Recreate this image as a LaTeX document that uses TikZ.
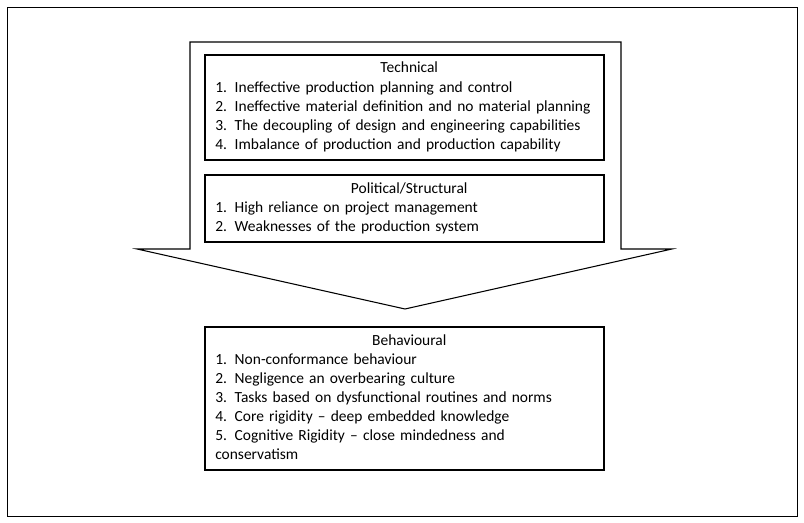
\documentclass[tikz,border=0pt]{standalone}
\usepackage{fontspec}
\setmainfont{Carlito}
\begin{document}
\begin{tikzpicture}[x=0.75pt,y=-0.75pt,
  frame/.style={draw=black,line width=0.8pt,fill=white},
  txt/.style={anchor=north west,inner sep=0pt,
    text width=291pt,align=left,font=\fontsize{11.6}{14.3}\selectfont}]
\useasboundingbox (0,0) rectangle (804,523);
\draw[line width=0.6pt] (7,7) rectangle (797,516);
\draw[line width=0.8pt] (190,42) -- (621,42) -- (621,249) -- (672,249) -- (405,309) -- (137,249) -- (190,249) -- cycle;
\draw[frame] (205,55) rectangle (604,160);
\draw[frame] (205,175) rectangle (604,242);
\draw[frame] (205,327) rectangle (604,470);
\node[txt] (tech) at (215,62) {\hfil Technical\par
1. Ineffective production planning and control\\
2. Ineffective material definition and no material planning\\
3. The decoupling of design and engineering capabilities\\
4. Imbalance of production and production capability};
\node[txt] (pol) at (215,182) {\hfil Political/Structural\par
1. High reliance on project management\\
2. Weaknesses of the production system};
\node[txt] (beh) at (215,334) {\hfil Behavioural\par
1. Non-conformance behaviour\\
2. Negligence an overbearing culture\\
3. Tasks based on dysfunctional routines and norms\\
4. Core rigidity -- deep embedded knowledge\\
5. Cognitive Rigidity -- close mindedness and\\
conservatism};
\end{tikzpicture}
\end{document}
